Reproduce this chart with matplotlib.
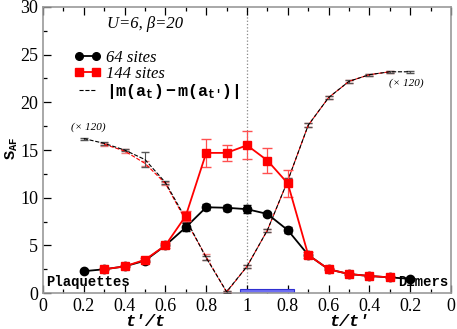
import matplotlib
matplotlib.use('Agg')
import matplotlib.pyplot as plt
import numpy as np
from matplotlib.lines import Line2D
from matplotlib.legend_handler import HandlerLine2D

# x: 0..1 is t'/t, 1..2 is 2 - t/t'
x64 = [0.2, 0.3, 0.4, 0.5, 0.6, 0.7, 0.8, 0.9, 1.0, 1.1, 1.2, 1.3, 1.4, 1.5, 1.6, 1.7, 1.8]
s64 = [2.3, 2.5, 2.8, 3.4, 5.0, 6.9, 9.0, 8.95, 8.8, 8.3, 6.6, 4.0, 2.5, 2.0, 1.8, 1.65, 1.5]
e64 = [0.1, 0.1, 0.1, 0.2, 0.2, 0.4, 0.3, 0.3, 0.4, 0.25, 0.3, 0.2, 0.1, 0.1, 0.1, 0.1, 0.1]

x144 = [0.3, 0.4, 0.5, 0.6, 0.7, 0.8, 0.9, 1.0, 1.1, 1.2, 1.3, 1.4, 1.5, 1.6, 1.7]
s144 = [2.5, 2.8, 3.5, 5.0, 8.1, 14.7, 14.7, 15.5, 13.9, 11.5, 4.0, 2.5, 2.0, 1.8, 1.65]
e144 = [0.1, 0.1, 0.2, 0.3, 0.5, 1.5, 0.8, 1.45, 1.3, 1.4, 0.3, 0.1, 0.1, 0.1, 0.1]

# |m(a_t) - m(a_t')| x 120
m64 = [16.2, 15.7, 15.0, 14.0, 11.6, 7.8, 3.7, 0.15, 2.8, 6.6, 11.8, 17.6, 20.5, 22.2, 22.9, 23.2, 23.2]
me64 = [0.1, 0.15, 0.15, 0.75, 0.2, 0.3, 0.2, 0.1, 0.15, 0.15, 0.3, 0.2, 0.15, 0.15, 0.1, 0.1, 0.1]
m144 = [15.6, 14.9, 13.6, 11.5, 7.6, 3.8, 0.1, 2.8, 6.6, 11.8, 17.6, 20.5, 22.2, 22.9, 23.2]
me144 = [0.15, 0.2, 0.25, 0.2, 0.3, 0.3, 0.1, 0.15, 0.15, 0.3, 0.2, 0.15, 0.15, 0.1, 0.1]

tick_pos = [0, 0.2, 0.4, 0.6, 0.8, 1.0, 1.2, 1.4, 1.6, 1.8, 2.0]
tick_lab = ['0', '0.2', '0.4', '0.6', '0.8', '1', '0.8', '0.6', '0.4', '0.2', '0']

serif = 'Liberation Serif'
mono = 'Liberation Mono'
plt.rcParams['mathtext.fontset'] = 'custom'
plt.rcParams['mathtext.rm'] = 'Liberation Mono:bold'
plt.rcParams['mathtext.bf'] = 'Liberation Mono:bold'
plt.rcParams['mathtext.it'] = 'Liberation Mono:bold'

fig = plt.figure(figsize=(4.57, 3.29), dpi=100)
ax = fig.add_axes([0.094, 0.109, 0.893, 0.870])

# vertical dotted line at t=t'
ax.axvline(1.0, color='#888888', ls=':', lw=0.9, zorder=1)

# blue bar
ax.bar(1.1, 0.42, width=0.265, bottom=0, color='#6f6ff5', edgecolor='#2f2fd0', lw=0.8, zorder=2)

# dashed order parameter curves
ax.errorbar(x144, m144, yerr=me144, color='red', ls='--', lw=0.8, capsize=3,
            elinewidth=0.8, ecolor='#f08080', zorder=3)
ax.errorbar(x64, m64, yerr=me64, color='black', ls='--', lw=0.8, capsize=3,
            elinewidth=0.8, ecolor='#555555', zorder=3)

# main curves
ax.errorbar(x64, s64, yerr=e64, color='black', marker='o', ms=6, lw=1.3,
            capsize=3, elinewidth=0.9, zorder=4)
ax.errorbar(x144, s144, yerr=e144, color='red', marker='s', ms=6, lw=1.3,
            capsize=3.5, elinewidth=0.9, ecolor='#ff5050', zorder=5)

ax.set_xlim(0, 2)
ax.set_ylim(0, 30)
ax.set_xticks(tick_pos)
ax.set_xticklabels(tick_lab)
ax.set_xticks(np.arange(0.1, 2.0, 0.2), minor=True)
ax.set_yticks([0, 5, 10, 15, 20, 25, 30])
ax.set_yticks(np.arange(2.5, 30, 5), minor=True)
ax.tick_params(which='both', direction='in', top=True, right=False)
ax.tick_params(which='major', length=6, width=0.9)
ax.tick_params(which='minor', length=3, width=0.9)
for lab in ax.get_xticklabels() + ax.get_yticklabels():
    lab.set_fontfamily(serif)
    lab.set_fontsize(13)
for sp in ax.spines.values():
    sp.set_color('#999999')
    sp.set_linewidth(1.2)

# axis labels
ax.text(0.25, -0.098, "t\u2032/t", transform=ax.transAxes, ha='center', va='center',
        family=mono, weight='bold', style='italic', fontsize=12)
ax.text(0.75, -0.098, "t/t\u2032", transform=ax.transAxes, ha='center', va='center',
        family=mono, weight='bold', style='italic', fontsize=12)
ax.text(-0.077, 0.505, r'$\mathbf{S_{AF}}$', transform=ax.transAxes,
        rotation=90, ha='center', va='center', fontsize=11)

ax.text(0.015, 0.45, 'Plaquettes', ha='left', va='bottom', family=mono,
        weight='bold', fontsize=10)
ax.text(1.985, 0.45, 'Dimers', ha='right', va='bottom', family=mono,
        weight='bold', fontsize=10)

ax.text(0.5, 28.2, 'U=6, \u03b2=20', ha='center', va='center', family=serif,
        style='italic', fontsize=12)
ax.text(0.22, 17.4, '(\u00d7 120)', ha='center', va='center', family=serif,
        style='italic', fontsize=8)
ax.text(1.78, 22.0, '(\u00d7 120)', ha='center', va='center', family=serif,
        style='italic', fontsize=8)

# legend
h1 = Line2D([], [], color='black', marker='o', ms=5.5, lw=1.3)
h2 = Line2D([], [], color='red', marker='s', ms=5.5, lw=1.3)
h3 = Line2D([], [], color='black', ls='--', lw=0.8)
leg = ax.legend([h1, h2, h3],
                ['64 sites', '144 sites', r'$|m(a_t)-m(a_{t\prime})|$'],
                loc='upper left', bbox_to_anchor=(0.088, 0.85), frameon=False,
                borderaxespad=0, borderpad=0,
                handler_map={Line2D: HandlerLine2D(marker_pad=0, numpoints=2)},
                handlelength=1.05, handletextpad=0.6, labelspacing=0.0,
                prop={'family': serif, 'style': 'italic', 'size': 12})

fig.savefig('out.png', dpi=100)
